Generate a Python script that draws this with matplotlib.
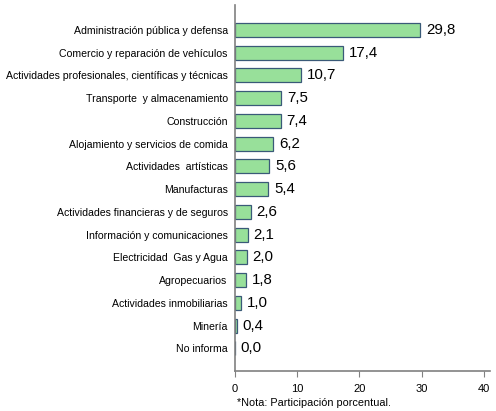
import numpy as np
import matplotlib.pyplot as plt

plt.rcParams['font.family'] = ['Liberation Sans', 'DejaVu Sans']

categorias = [
    "Administración pública y defensa",
    "Comercio y reparación de vehículos",
    "Actividades profesionales, científicas y técnicas",
    "Transporte  y almacenamiento",
    "Construcción",
    "Alojamiento y servicios de comida",
    "Actividades  artísticas",
    "Manufacturas",
    "Actividades financieras y de seguros",
    "Información y comunicaciones",
    "Electricidad  Gas y Agua",
    "Agropecuarios",
    "Actividades inmobiliarias",
    "Minería",
    "No informa",
]
valores = [29.8, 17.4, 10.7, 7.5, 7.4, 6.2, 5.6, 5.4, 2.6, 2.1, 2.0, 1.8, 1.0, 0.4, 0.0]
etiquetas = ["29,8", "17,4", "10,7", "7,5", "7,4", "6,2", "5,6", "5,4",
             "2,6", "2,1", "2,0", "1,8", "1,0", "0,4", "0,0"]
xticks = [0, 10, 20, 30, 40]

fig = plt.figure(figsize=(4.96, 4.11), dpi=100)
ax = fig.add_axes([0.473, 0.097, 0.515, 0.891])

y = np.arange(len(categorias))
ax.barh(y, valores, height=0.62, color='#98e09a', edgecolor='#3a5a78', linewidth=0.9)

for yi, v, lab in zip(y, valores, etiquetas):
    ax.text(v + 0.9, yi, lab, va='center', ha='left', fontsize=10.8)

ax.set_yticks(y)
ax.set_yticklabels(categorias, fontsize=7.6)
ax.set_ylim(15.0, -1.1)
ax.set_xlim(0, 41)
ax.set_xticks(xticks)
ax.set_xticklabels([str(t) for t in xticks], fontsize=8)
ax.tick_params(axis='y', length=0, pad=5)
ax.tick_params(axis='x', length=4, direction='out', pad=5, color='#808080')

for s in ['top', 'right']:
    ax.spines[s].set_visible(False)
for s in ['left', 'bottom']:
    ax.spines[s].set_color('#808080')
    ax.spines[s].set_linewidth(1.2)

fig.text(0.478, 0.008, "*Nota: Participación porcentual.", fontsize=7.8, ha='left', va='bottom')

fig.savefig("out.png", dpi=100)
